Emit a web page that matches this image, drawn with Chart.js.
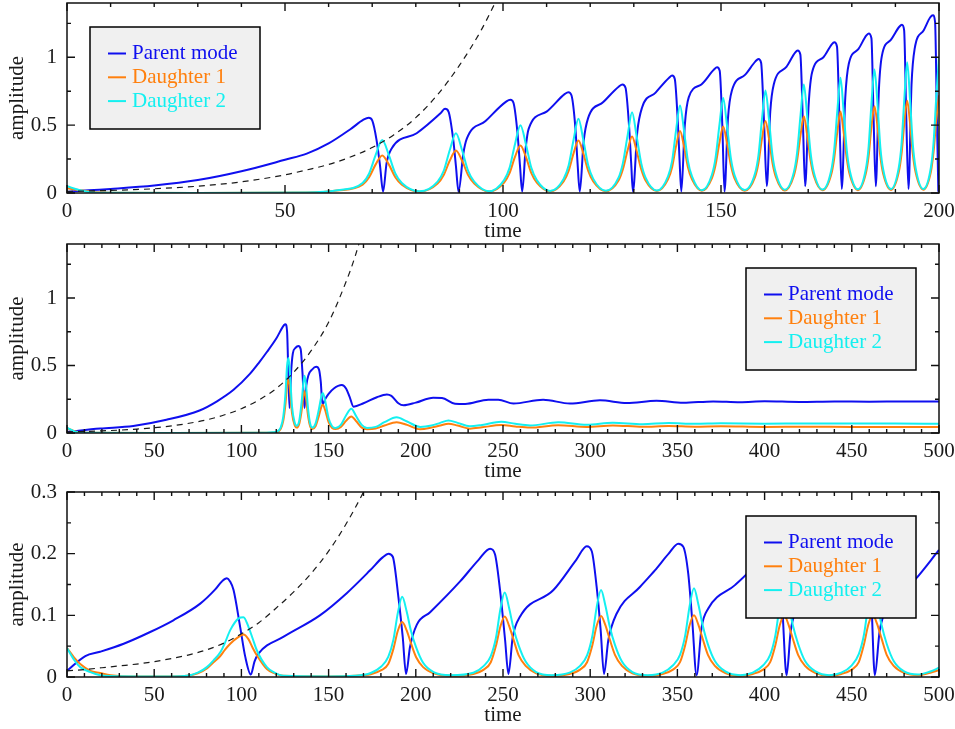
<!DOCTYPE html>
<html>
<head>
<meta charset="utf-8">
<script src="https://cdn.jsdelivr.net/npm/chart.js@4.4.0/dist/chart.umd.min.js"></script>
<style>
  html, body { margin: 0; padding: 0; background: #fff; }
  #page { position: relative; width: 955px; height: 729px; overflow: hidden; }
  .panel { position: absolute; left: 0; width: 955px; }
</style>
</head>
<body>
<div id="page">
  <div class="panel" style="top:0;height:245px"><canvas id="chart1"></canvas></div>
  <div class="panel" style="top:240px;height:245px"><canvas id="chart2"></canvas></div>
  <div class="panel" style="top:480px;height:249px"><canvas id="chart3"></canvas></div>
</div>
<script>
// ==========================================
// DATA
// ==========================================
const seriesNames = ['Parent mode', 'Daughter 1', 'Daughter 2'];
const seriesColors = ['#0f0fef', '#ff800e', '#14f0f0'];

// ---- panel 1 : time 0..200 ----
const p1ParentTime = [0,5,10,20,30,40,50,55,60,65,
  68,69.2,70,71,71.8,72.5,73.3,74.5,80.2,
  85.6,86.7,87.5,88.6,89.2,89.8,90.9,91.7,96,
  100.8,101.7,102.4,103.3,103.9,104.4,105.2,105.9,110,
  114.2,115,115.7,116.6,117.1,117.6,118.5,119.5,123,
  126.6,127.4,128.1,128.9,129.4,129.8,130.8,131.9,135,
  138.1,138.8,139.4,140.1,140.5,140.9,141.7,142.6,145.5,
  148.4,149.1,149.7,150.3,150.8,151.6,152.5,155.5,
  157.9,158.6,159.2,159.9,160.5,161.3,162.1,165,
  167,167.6,168.2,168.8,169.3,170.1,170.9,173.5,
  175.4,176,176.6,177.2,177.7,178.5,179.3,181.5,
  183.3,183.9,184.5,185,185.5,186.2,186.9,189,
  190.9,191.5,192,192.5,193,193.7,194.4,196.5,
  198,198.6,199.1,199.5,199.85];
const p1Parent = [0.008,0.02,0.03,0.055,0.095,0.16,0.245,0.29,0.365,0.47,
  0.54,0.555,0.535,0.39,0.2,0.01,0.22,0.33,0.44,
  0.585,0.62,0.6,0.39,0.2,0.01,0.29,0.4,0.53,
  0.675,0.687,0.665,0.45,0.2,0.01,0.33,0.475,0.6,
  0.73,0.743,0.72,0.48,0.22,0.01,0.38,0.55,0.67,
  0.785,0.8,0.775,0.5,0.22,0.01,0.45,0.63,0.74,
  0.85,0.865,0.84,0.52,0.24,0.01,0.5,0.705,0.8,
  0.91,0.926,0.9,0.5,0.01,0.55,0.755,0.87,
  0.97,0.988,0.96,0.5,0.05,0.6,0.8,0.93,
  1.035,1.05,1.02,0.5,0.05,0.65,0.89,1.0,
  1.095,1.11,1.08,0.5,0.03,0.7,0.95,1.06,
  1.16,1.176,1.14,0.55,0.05,0.75,1.01,1.13,
  1.225,1.24,1.2,0.55,0.03,0.8,1.06,1.2,
  1.295,1.31,1.26,0.6,0.01];

const p1DaughterTime = [0,3,6,12,30,55,62,
  67.8,69.3,70.8,72.3,73.8,75.3,76.8,80.9,
  85.0,86.4,87.8,89.2,90.6,92.0,93.4,96.8,
  100.25,101.5,102.75,104,105.25,106.5,107.75,110.8,
  113.9,115.05,116.2,117.3,118.4,119.55,120.7,123.6,
  126.5,127.5,128.6,129.6,130.6,131.7,132.7,135.3,
  137.85,138.8,139.7,140.6,141.5,142.4,143.35,145.6,
  147.9,148.75,149.65,150.5,151.35,152.25,153.1,155.45,
  157.8,158.6,159.4,160.2,161.0,161.8,162.6,164.65,
  166.7,167.45,168.25,169,169.75,170.55,171.3,173.3,
  175.25,175.95,176.7,177.4,178.1,178.85,179.55,181.4,
  183.2,183.85,184.5,185.2,185.9,186.55,187.2,189.0,
  190.75,191.4,192.05,192.7,193.35,194.0,194.65,196.4,
  198.15,198.75,199.4,200];
const p1Daughter1 = [0.035,0.02,0.008,0.002,0,0.003,0.018,
  0.061,0.116,0.211,0.277,0.211,0.116,0.061,0.01,
  0.069,0.132,0.239,0.314,0.239,0.132,0.069,0.011,
  0.077,0.147,0.266,0.35,0.266,0.147,0.077,0.012,
  0.085,0.163,0.294,0.387,0.294,0.163,0.085,0.013,
  0.092,0.175,0.317,0.417,0.317,0.175,0.092,0.014,
  0.1,0.192,0.347,0.456,0.347,0.192,0.1,0.016,
  0.108,0.206,0.372,0.49,0.372,0.206,0.108,0.017,
  0.117,0.223,0.403,0.53,0.403,0.223,0.117,0.018,
  0.125,0.238,0.43,0.566,0.43,0.238,0.125,0.02,
  0.132,0.252,0.456,0.6,0.456,0.252,0.132,0.021,
  0.141,0.269,0.486,0.64,0.486,0.269,0.141,0.023,
  0.15,0.286,0.517,0.68,0.517,0.286,0.15,0.024,
  0.158,0.302,0.547,0.72];
const p1Daughter2 = [0.05,0.02,0.004,0.001,0,0.003,0.02,
  0.074,0.144,0.281,0.39,0.281,0.144,0.074,0.012,
  0.084,0.163,0.317,0.44,0.317,0.163,0.084,0.013,
  0.095,0.185,0.36,0.5,0.36,0.185,0.095,0.015,
  0.104,0.202,0.394,0.547,0.394,0.202,0.104,0.016,
  0.113,0.22,0.428,0.595,0.428,0.22,0.113,0.018,
  0.123,0.239,0.464,0.645,0.464,0.239,0.123,0.02,
  0.133,0.259,0.504,0.7,0.504,0.259,0.133,0.022,
  0.143,0.279,0.544,0.755,0.544,0.279,0.143,0.024,
  0.152,0.296,0.576,0.8,0.576,0.296,0.152,0.025,
  0.162,0.315,0.612,0.85,0.612,0.315,0.162,0.027,
  0.173,0.337,0.655,0.91,0.655,0.337,0.173,0.03,
  0.183,0.356,0.693,0.963,0.693,0.356,0.183,0.03,
  0.19,0.37,0.72,1.0];

const p1GrowthTime = [0,10,20,30,40,50,55,60,65,70,75,80,85,90,95,100];
const p1Growth = [0.012,0.019,0.031,0.05,0.082,0.134,0.17,0.21,0.265,0.335,0.43,0.555,0.725,0.94,1.2,1.52];

// ---- panel 2 : time 0..500 ----
const p2ParentTime = [0,5,19,38,57,76,86,95.5,105,110,
  114.6,120,124.5,125.3,126.2,126.9,127.6,128.5,129.5,131,
  132.7,134,135,136.2,137.2,138.5,140.5,142.9,144.5,145.5,
  146.5,148,150,153,157.6,160,162,164.3,170,177.7,
  183.4,186,190,193,200,210,215,222.5,228.3,241.6,
  247.3,256,273,288.4,305.6,321,338,353.4,370.5,385.8,
  400,420,440,460,480,500];
const p2Parent = [0.008,0.015,0.033,0.052,0.098,0.167,0.235,0.32,0.44,0.52,
  0.6,0.7,0.8,0.805,0.75,0.45,0.185,0.45,0.59,0.63,
  0.645,0.62,0.45,0.185,0.35,0.43,0.47,0.49,0.47,0.38,
  0.21,0.25,0.29,0.33,0.355,0.33,0.27,0.195,0.22,0.265,
  0.285,0.275,0.22,0.205,0.225,0.262,0.26,0.217,0.215,0.247,
  0.247,0.218,0.247,0.218,0.242,0.222,0.239,0.224,0.234,0.228,
  0.235,0.23,0.234,0.232,0.234,0.233];

const p2DaughterTime = [0,3,6,12,60,110,118,120.3,122.5,124,
  125.3,126.2,127,127.8,129,130.5,131.8,133.3,134.7,135.6,
  136.2,137,138.3,139.4,140.6,142.5,144.5,146,146.7,148,
  150,152,154,157,160,163,166,169,172,177,
  182,189,195,202.5,209,214,218.7,224,231,238,
  249,257,265.5,281.7,298,313,330,345,360,375,
  400,425,450,475,500];
const p2Daughter1 = [0.035,0.02,0.008,0.002,0,0.001,0.004,0.008,0.03,0.09,
  0.22,0.36,0.395,0.32,0.15,0.06,0.04,0.075,0.18,0.28,
  0.31,0.26,0.12,0.05,0.03,0.05,0.13,0.2,0.21,0.17,
  0.08,0.037,0.03,0.045,0.09,0.123,0.085,0.04,0.028,0.033,
  0.055,0.079,0.06,0.028,0.04,0.055,0.069,0.055,0.032,0.042,
  0.059,0.048,0.04,0.058,0.045,0.056,0.046,0.052,0.047,0.05,
  0.045,0.046,0.045,0.045,0.044];
const p2Daughter2 = [0.04,0.02,0.005,0.001,0,0.001,0.005,0.01,0.04,0.12,
  0.3,0.5,0.556,0.45,0.2,0.08,0.054,0.1,0.25,0.38,
  0.424,0.36,0.17,0.07,0.04,0.07,0.18,0.28,0.296,0.24,
  0.11,0.05,0.037,0.06,0.13,0.18,0.12,0.06,0.037,0.045,
  0.08,0.116,0.085,0.045,0.055,0.075,0.093,0.075,0.05,0.06,
  0.084,0.068,0.056,0.079,0.061,0.076,0.065,0.074,0.068,0.072,
  0.069,0.071,0.07,0.07,0.069];

const p2GrowthTime = [0,10,20,30,40,50,60,70,80,90,100,110,120,130,140,150,160,165,170];
const p2Growth = [0.0085,0.0115,0.0157,0.0212,0.029,0.039,0.053,0.072,0.097,0.133,0.18,0.245,0.33,0.45,0.61,0.82,1.12,1.3,1.52];

// ---- panel 3 : time 0..500 ----
const p3ParentTime = [0,10.5,19,32.5,47.7,61,76.4,85,88.8,91.7,
  93.5,95.5,99.3,102.2,105.4,107.5,109.8,124,145,160.4,
  173.8,181,184.3,186.8,190,192.5,194.4,196.7,200.6,208.2,
  225.4,236,242.6,245.4,248.3,251.2,253.1,255.6,259.8,278.9,
  292,298,300.9,303.7,306,307.9,310.4,315.2,328.5,337.1,
  345,350.5,353.4,356.2,358.5,361,363.9,367.7,383,390,
  400,404,407,410,412.6,415,420,436,450,456,
  459,461,463.2,466,471,486,500];
const p3Parent = [0.01,0.034,0.041,0.054,0.073,0.092,0.119,0.142,0.155,0.16,
  0.155,0.141,0.081,0.033,0.004,0.025,0.038,0.065,0.1,0.136,
  0.173,0.194,0.2,0.195,0.13,0.065,0.005,0.049,0.085,0.105,
  0.155,0.19,0.208,0.199,0.141,0.06,0.005,0.065,0.098,0.141,
  0.19,0.212,0.204,0.146,0.076,0.005,0.06,0.103,0.146,0.173,
  0.2,0.216,0.211,0.168,0.092,0.003,0.081,0.111,0.149,0.168,
  0.205,0.218,0.21,0.12,0.003,0.075,0.115,0.155,0.2,0.22,
  0.212,0.14,0.003,0.075,0.115,0.157,0.206];

const p3DaughterTime = [0,4,7.6,13.4,19,25,40,60,68.8,75,
  80.2,84,87.9,90.5,93.6,98.4,101.2,104.1,106.5,108.9,
  114.6,119,124,150,165,
  174.2,180.2,184.2,187.2,189.7,192.2,194.7,197.2,200.2,204.2,210.2,220,
  233,239,243,246,248.5,251,253.5,256,259,263,269,278,
  288.2,294.2,298.2,301.2,303.7,306.2,308.7,311.2,314.2,318.2,324.2,333,
  341.5,347.5,351.5,354.5,357,359.5,362,364.5,367.5,371.5,377.5,386,
  393.2,399.2,403.2,406.2,408.7,411.2,413.7,416.2,419.2,423.2,429.2,437,
  444,450,454,457,459.5,462,464.5,467,470,474,480,488,495,500];
const p3Daughter1 = [0.047,0.032,0.021,0.01,0.0065,0.003,0.001,0.001,0.002,0.006,
  0.014,0.024,0.034,0.044,0.054,0.065,0.069,0.061,0.047,0.035,
  0.013,0.006,0.002,0.001,0.002,
  0.0045,0.011,0.021,0.046,0.075,0.089,0.076,0.055,0.032,0.016,0.006,0.002,
  0.005,0.012,0.024,0.051,0.082,0.098,0.083,0.061,0.035,0.018,0.006,0.002,
  0.005,0.012,0.024,0.051,0.083,0.099,0.084,0.061,0.036,0.018,0.006,0.002,
  0.005,0.012,0.024,0.052,0.084,0.1,0.085,0.062,0.036,0.018,0.0065,0.002,
  0.005,0.012,0.024,0.052,0.084,0.1,0.085,0.062,0.036,0.018,0.0065,0.002,
  0.005,0.012,0.024,0.053,0.085,0.101,0.086,0.063,0.036,0.018,0.0066,0.003,0.007,0.011];
const p3Daughter2 = [0.047,0.028,0.016,0.008,0.003,0.0015,0.001,0.001,0.002,0.007,
  0.016,0.027,0.04,0.055,0.076,0.095,0.097,0.081,0.062,0.043,
  0.016,0.007,0.002,0.001,0.002,
  0.0065,0.017,0.0325,0.061,0.104,0.13,0.107,0.075,0.048,0.023,0.008,0.003,
  0.007,0.018,0.034,0.064,0.11,0.137,0.112,0.079,0.051,0.025,0.008,0.003,
  0.007,0.018,0.035,0.066,0.113,0.141,0.116,0.082,0.052,0.025,0.008,0.003,
  0.007,0.019,0.036,0.068,0.115,0.144,0.118,0.084,0.053,0.026,0.009,0.003,
  0.007,0.019,0.036,0.068,0.116,0.145,0.119,0.084,0.054,0.026,0.009,0.003,
  0.007,0.019,0.037,0.069,0.117,0.146,0.12,0.085,0.054,0.026,0.009,0.004,0.009,0.015];

const p3GrowthTime = [0,10,20,30,40,50,60,70,80,90,100,110,120,130,140,150,160,170,175];
const p3Growth = [0.01,0.012,0.015,0.018,0.021,0.025,0.03,0.036,0.044,0.055,0.07,0.088,0.112,0.138,0.168,0.204,0.248,0.3,0.33];

// ==========================================
// PLUGINS: boxed frame with inward ticks + framed legend
// ==========================================
const frameTicks = {
  id: 'frameTicks',
  afterDatasetsDraw(chart, args, opts) {
    const { ctx, chartArea: a, scales: { x, y } } = chart;
    ctx.save();
    ctx.strokeStyle = '#111';
    ctx.lineWidth = 1.4;
    const isMajor = (v, step) => Math.abs(v / step - Math.round(v / step)) < 1e-6;

    const nx = Math.round((x.max - x.min) / opts.xMinor);
    for (let i = 0; i <= nx; i++) {
      const v = x.min + i * opts.xMinor;
      const px = x.getPixelForValue(v);
      const len = isMajor(v, opts.xMajor) ? 8 : 4;
      ctx.beginPath();
      ctx.moveTo(px, a.bottom); ctx.lineTo(px, a.bottom - len);
      ctx.moveTo(px, a.top); ctx.lineTo(px, a.top + len);
      ctx.stroke();
    }
    const ny = Math.floor((y.max - y.min) / opts.yMinor + 1e-6);
    for (let i = 0; i <= ny; i++) {
      const v = y.min + i * opts.yMinor;
      const py = y.getPixelForValue(v);
      const len = isMajor(v, opts.yMajor) ? 8 : 4;
      ctx.beginPath();
      ctx.moveTo(a.left, py); ctx.lineTo(a.left + len, py);
      ctx.moveTo(a.right, py); ctx.lineTo(a.right - len, py);
      ctx.stroke();
    }
    ctx.lineWidth = 1.5;
    ctx.strokeRect(a.left, a.top, a.right - a.left, a.bottom - a.top);
    ctx.restore();
  }
};

const boxLegend = {
  id: 'boxLegend',
  afterDraw(chart, args, opts) {
    const { ctx, chartArea: a } = chart;
    const w = 170, h = 102;
    const left = opts.side === 'left' ? a.left + 23 : a.right - 23 - w;
    const top = a.top + 24;
    ctx.save();
    ctx.fillStyle = '#f0f0f0';
    ctx.fillRect(left, top, w, h);
    ctx.strokeStyle = '#000';
    ctx.lineWidth = 1.5;
    ctx.strokeRect(left, top, w, h);
    ctx.font = '21px "Liberation Serif", "Times New Roman", serif';
    ctx.textBaseline = 'middle';
    seriesNames.forEach((name, i) => {
      const yy = top + 26.5 + i * 23.8;
      ctx.strokeStyle = seriesColors[i];
      ctx.lineWidth = 2;
      ctx.beginPath();
      ctx.moveTo(left + 18, yy); ctx.lineTo(left + 36, yy);
      ctx.stroke();
      ctx.fillStyle = seriesColors[i];
      ctx.fillText(name, left + 42, yy);
    });
    ctx.restore();
  }
};

// ==========================================
// CHART SETUP
// ==========================================
Chart.defaults.font.family = '"Liberation Serif", "Times New Roman", serif';
Chart.defaults.font.size = 21;
Chart.defaults.color = '#1a1a1a';

function toPoints(times, values) {
  return times.map((t, i) => ({ x: t, y: values[i] }));
}

function makePanel(id, p) {
  const yLabel = v => {
    const r = v / p.yStep;
    return Math.abs(r - Math.round(r)) < 1e-6 ? String(Math.round(v * 100) / 100) : null;
  };
  return new Chart(document.getElementById(id), {
    type: 'line',
    data: {
      datasets: [
        { label: 'growth', data: toPoints(p.growthTime, p.growth), borderColor: '#1a1a1a',
          borderWidth: 1.2, borderDash: [6, 5], order: 0 },
        { label: seriesNames[2], data: toPoints(p.daughterTime, p.daughter2), borderColor: seriesColors[2], order: 1 },
        { label: seriesNames[1], data: toPoints(p.daughterTime, p.daughter1), borderColor: seriesColors[1], order: 2 },
        { label: seriesNames[0], data: toPoints(p.parentTime, p.parent), borderColor: seriesColors[0], order: 3 }
      ]
    },
    options: {
      responsive: true,
      maintainAspectRatio: false,
      animation: false,
      layout: { padding: { top: p.padTop, right: 16, bottom: 0, left: 0 } },
      elements: {
        point: { radius: 0 },
        line: { borderWidth: 2, cubicInterpolationMode: 'monotone', fill: false }
      },
      plugins: {
        legend: { display: false },
        tooltip: { enabled: false },
        boxLegend: { side: p.legendSide },
        frameTicks: { xMinor: 10, xMajor: 50, yMinor: p.yMinor, yMajor: p.yStep }
      },
      scales: {
        x: {
          type: 'linear', min: 0, max: p.xMax,
          grid: { display: false, drawTicks: false },
          border: { display: false },
          ticks: { stepSize: 50, padding: 6, autoSkip: false, maxRotation: 0 },
          title: { display: true, text: 'time', padding: { top: 0, bottom: 1 } },
          afterFit: s => { s.height = 52; s.paddingLeft = 0; s.paddingRight = 0; s.paddingTop = 0; s.paddingBottom = 0; }
        },
        y: {
          type: 'linear', min: 0, max: p.yMax,
          grid: { display: false, drawTicks: false },
          border: { display: false },
          ticks: { stepSize: p.yStep, padding: 10, includeBounds: p.includeBounds, callback: yLabel },
          title: { display: true, text: 'amplitude', padding: { top: 5, bottom: 0 } },
          afterFit: s => { s.width = 67; s.paddingLeft = 0; s.paddingRight = 0; s.paddingTop = 0; s.paddingBottom = 0; }
        }
      }
    },
    plugins: [frameTicks, boxLegend]
  });
}

makePanel('chart1', {
  xMax: 200, yMax: 1.4, yStep: 0.5, yMinor: 0.25, includeBounds: false, padTop: 3, legendSide: 'left',
  parentTime: p1ParentTime, parent: p1Parent,
  daughterTime: p1DaughterTime, daughter1: p1Daughter1, daughter2: p1Daughter2,
  growthTime: p1GrowthTime, growth: p1Growth
});

makePanel('chart2', {
  xMax: 500, yMax: 1.4, yStep: 0.5, yMinor: 0.25, includeBounds: false, padTop: 4, legendSide: 'right',
  parentTime: p2ParentTime, parent: p2Parent,
  daughterTime: p2DaughterTime, daughter1: p2Daughter1, daughter2: p2Daughter2,
  growthTime: p2GrowthTime, growth: p2Growth
});

makePanel('chart3', {
  xMax: 500, yMax: 0.3, yStep: 0.1, yMinor: 0.05, includeBounds: true, padTop: 12, legendSide: 'right',
  parentTime: p3ParentTime, parent: p3Parent,
  daughterTime: p3DaughterTime, daughter1: p3Daughter1, daughter2: p3Daughter2,
  growthTime: p3GrowthTime, growth: p3Growth
});
</script>
</body>
</html>
